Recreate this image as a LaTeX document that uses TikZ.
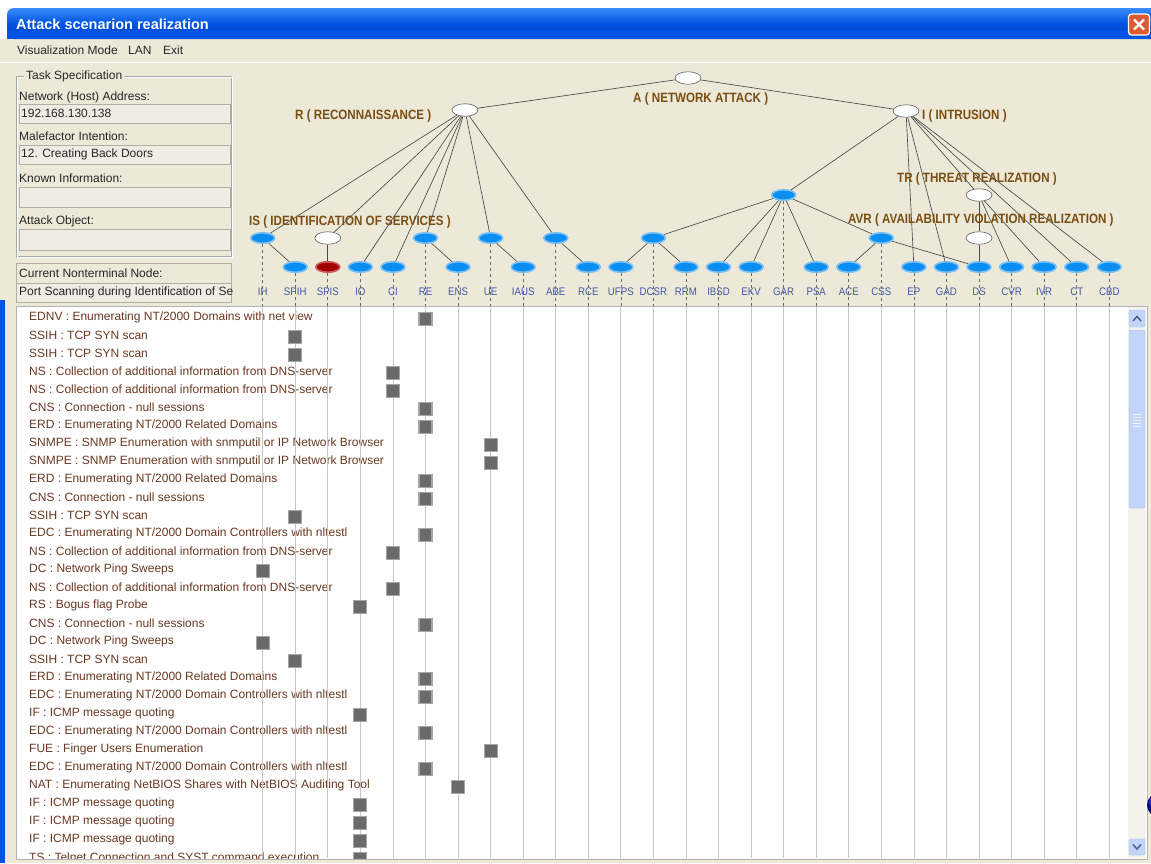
\documentclass[tikz,border=0pt]{standalone}
\usepackage{fontspec}
\setmainfont{Liberation Sans}
\usepackage{graphicx}
\usetikzlibrary{shapes.geometric}

\definecolor{winbg}{HTML}{ECE9D8}
\definecolor{xpblue}{HTML}{0054E3}
\definecolor{xplight}{HTML}{3A8CFA}
\definecolor{xpdark}{HTML}{003CC0}
\definecolor{closered}{HTML}{DE5A30}
\definecolor{fieldbg}{HTML}{EFEDE3}
\definecolor{fieldedge}{HTML}{B2AFA2}
\definecolor{nodeblue}{HTML}{0A8EF2}
\definecolor{haloblue}{HTML}{7FC0F2}
\definecolor{nodered}{HTML}{A30000}
\definecolor{halored}{HTML}{CC5C5C}
\definecolor{lblbrown}{HTML}{7A4E12}
\definecolor{colblue}{HTML}{4258A8}
\definecolor{rowtext}{HTML}{6A3820}
\definecolor{gridgray}{HTML}{C6C6C6}
\definecolor{boxgray}{HTML}{6A6A6A}
\definecolor{boxedge}{HTML}{A6A6A6}
\definecolor{edgegray}{HTML}{4A4A4A}
\definecolor{dashgray}{HTML}{6A6A6A}
\definecolor{scrollbtn}{HTML}{C3D4FB}
\definecolor{scrolledge}{HTML}{A9BDEB}
\definecolor{scrollarrow}{HTML}{4D6185}
\definecolor{scrolltrack}{HTML}{F4F2EC}

\newcommand{\narrowtext}[1]{\scalebox{0.88}[1]{#1}}
\newcommand{\narrowbold}[1]{\scalebox{0.86}[1]{\bfseries #1}}
\newcommand{\colx}[1]{262.7+32.56*#1}
\newcommand{\listrow}[2]{\node[rowtxt] (row#1) at (29,{317.3+18*#1}) {#2};}

\begin{document}
\begin{tikzpicture}[x=1pt,y=-1pt,
  ui/.style={font=\fontsize{12}{13}\selectfont, text=black!85, inner sep=0pt, anchor=west},
  field/.style={fill=fieldbg, draw=fieldedge, line width=0.6pt},
  bnode/.style={ellipse, fill=nodeblue, draw=haloblue, line width=1.6pt,
                minimum width=24pt, minimum height=10.5pt, inner sep=0pt},
  rnode/.style={bnode, fill=nodered, draw=halored},
  wnode/.style={ellipse, fill=white, draw=gray!75!black, line width=0.6pt,
                minimum width=26pt, minimum height=12.5pt, inner sep=0pt},
  tlabel/.style={text=lblbrown, font=\fontsize{13.5}{14}\selectfont, inner sep=0pt, anchor=west},
  collabel/.style={text=colblue, font=\fontsize{11}{11}\selectfont, inner sep=0pt},
  edge/.style={draw=edgegray, line width=0.65pt},
  dashline/.style={draw=dashgray, line width=0.7pt, dash pattern=on 3pt off 3pt},
  gridline/.style={draw=gridgray, line width=0.8pt},
  rowtxt/.style={text=rowtext, font=\fontsize{12}{12}\selectfont, inner sep=0pt, anchor=west},
  markbox/.style={fill=boxgray, draw=boxedge, line width=1.2pt, minimum size=13pt, inner sep=0pt}
]
\useasboundingbox (0,0) rectangle (1151,863);

% window background
\fill[winbg] (0,0) rectangle (1151,863);
\fill[white] (0,0) rectangle (1151,8);
\fill[white] (0,8) rectangle (7,39);

% title bar
\shade[top color=xplight, bottom color=xpdark, middle color=xpblue, rounded corners=7pt]
  (7,39) -- (7,8) -- (1165,8) -- (1165,39) -- cycle;
\fill[xpblue] (7,30) rectangle (1151,39);
\node[anchor=west, text=white, font=\fontsize{14.5}{15}\selectfont\bfseries, inner sep=0pt]
  (title) at (16,24) {Attack scenarion realization};
\node[fill=closered, draw=white, line width=1.2pt, rounded corners=3pt,
      minimum width=21pt, minimum height=21pt] (close) at (1139,24.5) {};
\draw[white, line width=2.2pt] ([shift={(-5,-5)}]close.center) -- ([shift={(5,5)}]close.center);
\draw[white, line width=2.2pt] ([shift={(-5,5)}]close.center) -- ([shift={(5,-5)}]close.center);

% menu bar
\node[ui] (mview) at (17,50) {Visualization Mode};
\node[ui] (mlan) at (128,50) {LAN};
\node[ui] (mexit) at (163,50) {Exit};
\draw[white, line width=0.8pt] (0,62) -- (1151,62);

% task specification panel
\draw[gray!70, line width=0.6pt] (16,76) rectangle (231,256);
\draw[white, line width=0.6pt] (17,77) rectangle (232,257);
\node[ui, fill=winbg, inner xsep=2pt] (taskspec) at (24,76) {Task Specification};
\node[ui] (lnet) at (19,97) {Network (Host) Address:};
\draw[field] (19,104) rectangle (230,123);
\node[ui] (vnet) at (21,113) {192.168.130.138};
\node[ui] (lmal) at (19,136) {Malefactor Intention:};
\draw[field] (19,145) rectangle (230,164);
\node[ui] (vmal) at (21,154) {12. Creating Back Doors};
\node[ui] (lknown) at (19,178) {Known Information:};
\draw[field] (19,187) rectangle (230,207);
\node[ui] (lobj) at (19,221) {Attack Object:};
\draw[field] (19,229) rectangle (230,250);
\draw[field, fill=winbg] (16,263) rectangle (231,283);
\node[ui] (lcur) at (19,273) {Current Nonterminal Node:};
\draw[field] (16,283) rectangle (231,302);
\node[ui] (vcur) at (19,292) {Port Scanning during Identification of Se};

% window frame
\fill[xpblue] (0,300) rectangle (5,863);

% attack tree nodes
\node[wnode] (A) at (688,78) {};
\node[wnode] (R) at (465,110) {};
\node[wnode] (I) at (906,111) {};
\node[bnode] (GAR) at ({\colx{16}},195) {};
\node[wnode] (TR) at ({\colx{22}},195) {};

\node[bnode] (IH)    at ({\colx{0}},238) {};
\node[wnode] (SPISp) at ({\colx{2}},238) {};
\node[bnode] (RE)    at ({\colx{5}},238) {};
\node[bnode] (UE)    at ({\colx{7}},238) {};
\node[bnode] (ABE)   at ({\colx{9}},238) {};
\node[bnode] (DCSR)  at ({\colx{12}},238) {};
\node[bnode] (CSS)   at ({\colx{19}},238) {};
\node[wnode] (DSp)   at ({\colx{22}},238) {};

\foreach \n/\i in {SPIH/1,IO/3,CI/4,ENS/6,IAUS/8,RCE/10,UFPS/11,RRM/13,IBSD/14,EKV/15,
                   PSA/17,ACE/18,EP/20,GAD/21,DS/22,CVR/23,IVR/24,CT/25,CBD/26}
  \node[bnode] (\n) at ({\colx{\i}},267) {};
\node[rnode] (SPIS) at ({\colx{2}},267) {};

% tree connectors
\foreach \p/\c in {A/R, A/I,
    R/IH, R/SPISp, R/IO, R/CI, R/RE, R/UE, R/ABE,
    IH/SPIH, SPISp/SPIS, RE/ENS, UE/IAUS, ABE/RCE,
    I/GAR, I/EP, I/GAD, I/TR, I/CT, I/CBD,
    GAR/DCSR, GAR/IBSD, GAR/EKV, GAR/PSA, GAR/CSS,
    DCSR/UFPS, DCSR/RRM, CSS/ACE, CSS/DS,
    TR/DSp, TR/CVR, TR/IVR, DSp/DS}
  \draw[edge] (\p) -- (\c);

% group labels
\node[tlabel] (labA)   at (633,99)  {\narrowbold{A ( NETWORK ATTACK )}};
\node[tlabel] (labR)   at (295,116) {\narrowbold{R ( RECONNAISSANCE )}};
\node[tlabel] (labI)   at (922,116) {\narrowbold{I ( INTRUSION )}};
\node[tlabel] (labTR)  at (897,179) {\narrowbold{TR ( THREAT REALIZATION )}};
\node[tlabel] (labAVR) at (848,220) {\narrowbold{AVR ( AVAILABILITY VIOLATION REALIZATION )}};
\node[tlabel] (labIS)  at (249,222) {\narrowbold{IS ( IDENTIFICATION OF SERVICES )}};

% column labels and their drop lines
\coordinate (listtop) at (0,306);
\coordinate (listbot) at (0,858);
\foreach \n [count=\i from 0] in {IH,SPIH,SPIS,IO,CI,RE,ENS,UE,IAUS,ABE,RCE,UFPS,DCSR,RRM,
                                  IBSD,EKV,GAR,PSA,ACE,CSS,EP,GAD,DS,CVR,IVR,CT,CBD}
  \node[collabel] (lab\n) at ({\colx{\i}},292) {\narrowtext{\n}};
\foreach \n in {IH,SPIH,SPIS,IO,CI,RE,ENS,UE,IAUS,ABE,RCE,UFPS,DCSR,RRM,
                IBSD,EKV,GAR,PSA,ACE,CSS,EP,GAD,DS,CVR,IVR,CT,CBD}
  \draw[dashline] (\n) -- (\n |- listtop);

% action list
\fill[white] (16,306) rectangle (1147,859);
\begin{scope}
  \clip (17,307) rectangle (1127,858);
  \listrow{0}{EDNV : Enumerating NT/2000 Domains with net view}
  \listrow{1}{SSIH : TCP SYN scan}
  \listrow{2}{SSIH : TCP SYN scan}
  \listrow{3}{NS : Collection of additional information from DNS-server}
  \listrow{4}{NS : Collection of additional information from DNS-server}
  \listrow{5}{CNS : Connection - null sessions}
  \listrow{6}{ERD : Enumerating NT/2000 Related Domains}
  \listrow{7}{SNMPE : SNMP Enumeration with snmputil or IP Network Browser}
  \listrow{8}{SNMPE : SNMP Enumeration with snmputil or IP Network Browser}
  \listrow{9}{ERD : Enumerating NT/2000 Related Domains}
  \listrow{10}{CNS : Connection - null sessions}
  \listrow{11}{SSIH : TCP SYN scan}
  \listrow{12}{EDC : Enumerating NT/2000 Domain Controllers with nltestl}
  \listrow{13}{NS : Collection of additional information from DNS-server}
  \listrow{14}{DC : Network Ping Sweeps}
  \listrow{15}{NS : Collection of additional information from DNS-server}
  \listrow{16}{RS : Bogus flag Probe}
  \listrow{17}{CNS : Connection - null sessions}
  \listrow{18}{DC : Network Ping Sweeps}
  \listrow{19}{SSIH : TCP SYN scan}
  \listrow{20}{ERD : Enumerating NT/2000 Related Domains}
  \listrow{21}{EDC : Enumerating NT/2000 Domain Controllers with nltestl}
  \listrow{22}{IF : ICMP message quoting}
  \listrow{23}{EDC : Enumerating NT/2000 Domain Controllers with nltestl}
  \listrow{24}{FUE : Finger Users Enumeration}
  \listrow{25}{EDC : Enumerating NT/2000 Domain Controllers with nltestl}
  \listrow{26}{NAT : Enumerating NetBIOS Shares with NetBIOS Auditing Tool}
  \listrow{27}{IF : ICMP message quoting}
  \listrow{28}{IF : ICMP message quoting}
  \listrow{29}{IF : ICMP message quoting}
  \listrow{30}{TS : Telnet Connection and SYST command execution}
  \foreach \n in {IH,SPIH,SPIS,IO,CI,RE,ENS,UE,IAUS,ABE,RCE,UFPS,DCSR,RRM,
                  IBSD,EKV,GAR,PSA,ACE,CSS,EP,GAD,DS,CVR,IVR,CT,CBD}
    \draw[gridline] (lab\n |- listtop) -- (lab\n |- listbot);
  \foreach \r/\c in {0/5,1/1,2/1,3/4,4/4,5/5,6/5,7/7,8/7,9/5,10/5,11/1,12/5,13/4,14/0,15/4,
                     16/3,17/5,18/0,19/1,20/5,21/5,22/3,23/5,24/7,25/5,26/6,27/3,28/3,29/3,30/3}
    \node[markbox] (mark\r) at ({\colx{\c}},{319+18*\r}) {};
\end{scope}
\draw[gray!60, line width=0.8pt] (16,306) rectangle (1147,859);

% scroll bar
\fill[scrolltrack] (1128,307) rectangle (1146,858);
\draw[fill=scrollbtn, draw=scrolledge, rounded corners=2pt] (1129,310) rectangle (1145,327);
\draw[scrollarrow, line width=1.5pt] (1133,321) -- (1137,316.5) -- (1141,321);
\draw[fill=scrollbtn, draw=scrolledge, rounded corners=2pt] (1129,330) rectangle (1145,508);
\foreach \g in {414,417,420,423,426}
  \draw[white!80!scrolledge, line width=0.7pt] (1133,\g) -- (1141,\g);
\draw[fill=scrollbtn, draw=scrolledge, rounded corners=2pt] (1129,839) rectangle (1145,855);
\draw[scrollarrow, line width=1.5pt] (1133,844.5) -- (1137,849) -- (1141,844.5);

% corner of a desktop icon at the edge
\shade[ball color=blue!75!black] (1159,805) circle (12);
\end{tikzpicture}
\end{document}
